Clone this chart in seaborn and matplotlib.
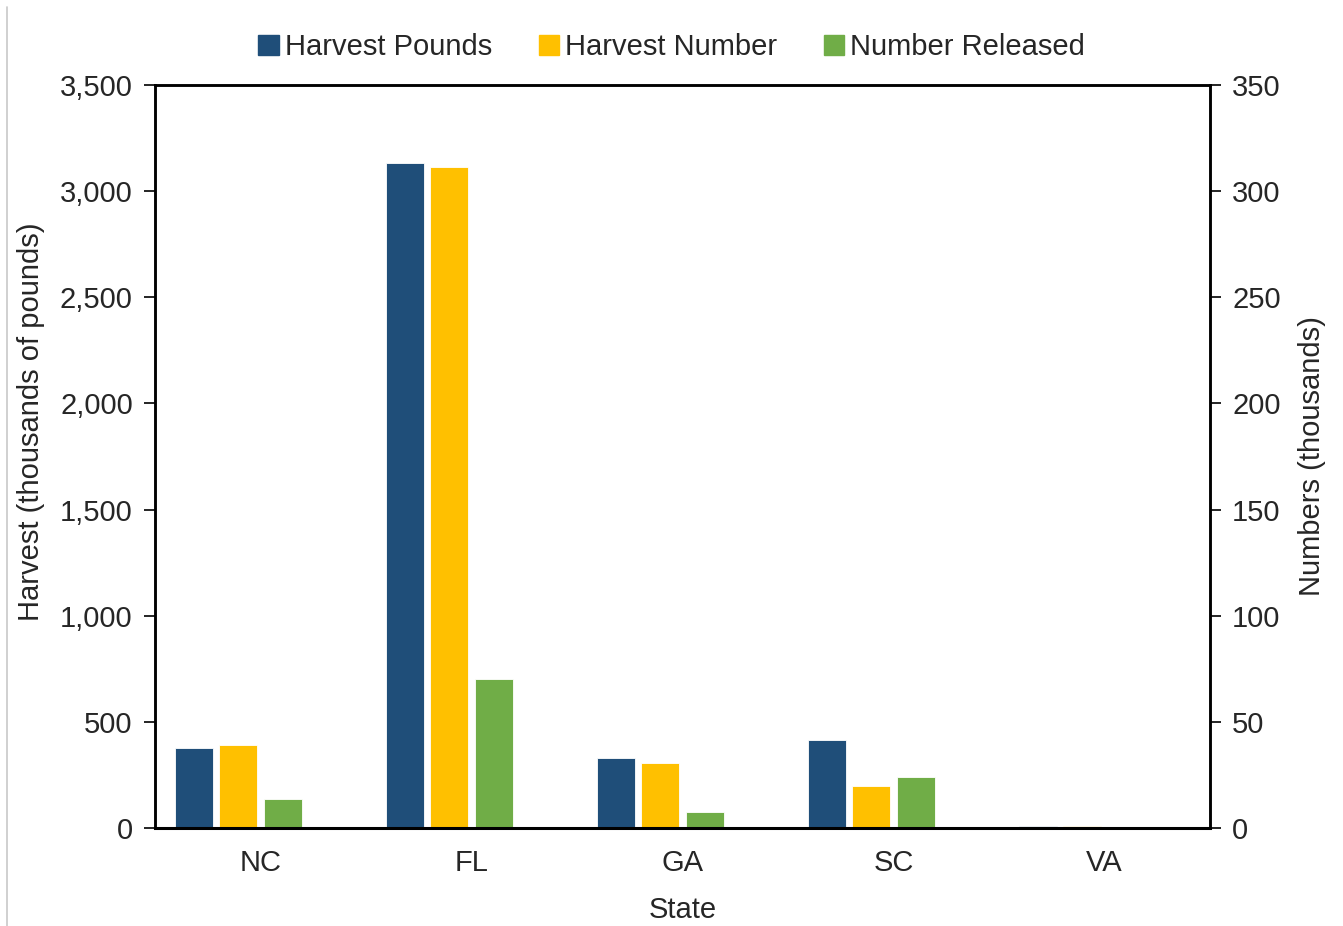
import numpy as np
import pandas as pd
import matplotlib
matplotlib.use('Agg')
import matplotlib.pyplot as plt
from matplotlib.lines import Line2D
import seaborn as sns

# values
states = ['NC', 'FL', 'GA', 'SC', 'VA']
harvest_pounds = [378, 3131, 330, 414, 9]        # thousands of pounds (left axis)
harvest_number = [38.9, 311.2, 30.5, 19.8, 0.9]  # thousands of fish (right axis)
number_released = [13.5, 70.3, 7.5, 23.9, 0.0]   # thousands of fish (right axis)

series = ['Harvest Pounds', 'Harvest Number', 'Number Released']
colors = ['#1F4E79', '#FFC000', '#70AD47']

# right axis runs 0-350 against 0-3,500 on the left, so numbers go x10 onto the left scale
ratio = 3500 / 350
df = pd.DataFrame({
    'State': states * 3,
    'Series': np.repeat(series, len(states)),
    'Value': harvest_pounds + [v * ratio for v in harvest_number] + [v * ratio for v in number_released],
})

sns.set_style('white')
plt.rcParams['font.family'] = ['Liberation Sans', 'DejaVu Sans']
fs = 21

fig = plt.figure(figsize=(13.43, 9.26), dpi=100)
ax = fig.add_axes([155 / 1343, 1 - 828 / 926, (1210 - 155) / 1343, (828 - 85) / 926])

# the source chart keeps an empty fourth slot in each group, so bars sit left of centre
sns.barplot(data=df, x='State', y='Value', hue='Series', order=states,
            hue_order=series + [' '], palette=colors + ['white'],
            width=0.84, gap=0.14, errorbar=None, saturation=1,
            edgecolor='white', linewidth=0.6, legend=False, ax=ax)

ax.set_xlim(-0.5, len(states) - 0.5)
ax.set_ylim(0, 3500)
ax.set_yticks(np.arange(0, 3501, 500))
ax.set_yticklabels([f'{int(v):,}' for v in np.arange(0, 3501, 500)], fontsize=fs)
ax.set_xticks(range(len(states)))
ax.set_xticklabels(states, fontsize=fs)
ax.set_xticks(np.arange(-0.5, len(states), 1), minor=True)
ax.tick_params(axis='x', which='major', length=0, pad=15)
ax.tick_params(axis='x', which='minor', length=8, width=1.2, direction='out', color='black')
ax.tick_params(axis='y', length=8, width=1.2, direction='out', color='black', pad=8)
ax.set_xlabel('State', fontsize=fs, labelpad=14)
ax.set_ylabel('Harvest (thousands of pounds)', fontsize=fs)
ax.yaxis.set_label_coords(-0.104, 1 - (422 - 85) / 743)

ax2 = ax.twinx()
ax2.set_ylim(0, 350)
ax2.set_yticks(np.arange(0, 351, 50))
ax2.set_yticklabels([str(v) for v in np.arange(0, 351, 50)], fontsize=fs)
ax2.tick_params(axis='y', length=8, width=1.2, direction='out', color='black', pad=8)
ax2.set_ylabel('Numbers (thousands)', fontsize=fs, labelpad=12)

for a in (ax, ax2):
    for s in a.spines.values():
        s.set_color('black')
        s.set_linewidth(1.8)
ax.spines['bottom'].set_linewidth(2.2)

handles = [plt.Rectangle((0, 0), 1, 1, color=c) for c in colors]
fig.legend(handles, series, loc='center', bbox_to_anchor=(0.5, 1 - 47 / 926), ncol=3,
           frameon=False, fontsize=fs, handlelength=0.7, handleheight=0.7,
           handletextpad=0.2, columnspacing=1.6)

# thin grey frame line at the left edge of the picture
fig.add_artist(Line2D([7 / 1343, 7 / 1343], [0, 1 - 7 / 926], color='#c8c8c8', linewidth=1.2))

fig.savefig('out.png', dpi=100)
